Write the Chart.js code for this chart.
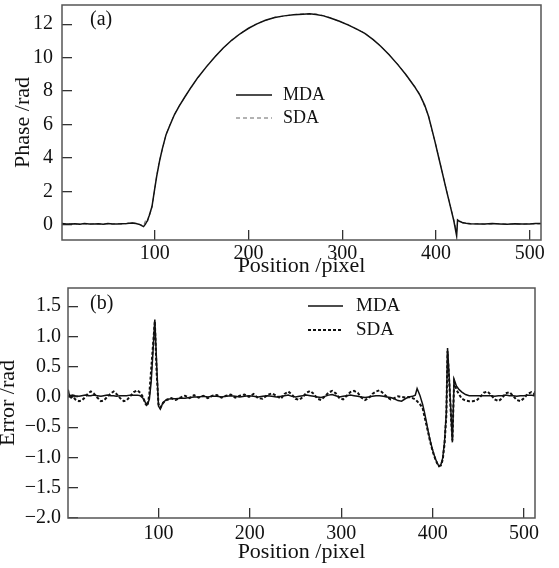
<!DOCTYPE html>
<html>
<head>
<meta charset="utf-8">
<script src="https://cdn.jsdelivr.net/npm/chart.js"></script>
<style>
  body { margin: 0; background: #fff; }
  canvas { position: absolute; left: 0; }
  #chartA { top: 0; }
  #chartB { top: 282px; }
</style>
</head>
<body>
<canvas id="chartA" width="559" height="282"></canvas>
<canvas id="chartB" width="559" height="286"></canvas>
<script>
// (a) phase, sampled positions
const phaseX = [1,5,10,15,20,25,30,35,40,45,50,55,60,65,70,75,80,84,88,90,92,94,97,100,102,105,108,112,116,121,126,132,139,146,155,164,173,182,191,200,209,218,228,238,248,258,265,272,280,288,297,306,315,324,333,341,350,359,368,377,383,388,392,395,399,403,407,411,416,419,422,423,425,428,432,437,445,452,460,468,476,484,492,500,506,512];
const phaseMDA = [0.08,0.06,0.05,0.07,0.04,0.08,0.06,0.05,0.07,0.04,0.08,0.06,0.05,0.07,0.09,0.12,0.08,0.02,-0.10,0.05,0.25,0.55,1.10,2.20,2.90,3.80,4.55,5.40,5.95,6.60,7.10,7.65,8.25,8.82,9.45,10.04,10.58,11.04,11.43,11.76,12.02,12.24,12.40,12.50,12.56,12.60,12.62,12.58,12.50,12.36,12.18,11.96,11.72,11.45,11.08,10.68,10.18,9.60,8.98,8.28,7.75,7.15,6.50,5.85,4.95,4.00,3.05,2.10,0.95,0.25,-0.65,0.30,0.22,0.15,0.10,0.07,0.06,0.05,0.08,0.06,0.04,0.07,0.05,0.06,0.08,0.09];
const phaseSDA = [0.10,0.07,0.06,0.05,0.06,0.07,0.04,0.07,0.06,0.05,0.07,0.06,0.08,0.05,0.08,0.15,0.10,0.04,-0.05,0.25,0.15,0.50,1.05,2.15,2.95,3.85,4.50,5.42,5.97,6.62,7.12,7.63,8.27,8.80,9.47,10.06,10.56,11.06,11.45,11.74,12.05,12.22,12.42,12.49,12.58,12.62,12.60,12.61,12.52,12.38,12.16,11.99,11.70,11.48,11.06,10.70,10.16,9.63,8.95,8.30,7.80,7.05,6.55,5.80,4.98,4.02,3.08,2.12,0.98,0.30,-0.40,0.20,0.25,0.12,0.08,0.05,0.08,0.04,0.06,0.08,0.05,0.06,0.04,0.08,0.05,0.07];

// (b) error, sampled positions
const errX = [1,3,6,9,13,16,20,23,26,29,33,37,40,44,48,51,54,58,62,65,69,73,77,80,83,86,88,90,92,94,96,98,100,102,105,109,114,119,124,129,134,139,144,149,154,159,164,169,174,179,184,189,194,199,204,209,214,219,224,229,234,238,242,246,250,254,258,262,266,270,274,278,282,286,290,294,298,302,306,310,314,318,322,326,330,334,338,342,346,350,354,358,362,366,370,374,378,381,383,386,389,391,393,395,397,399,401,403,405,407,409,411,413,415,416.3,418,420,421.6,423.5,426,429,432,436,440,444,448,452,456,460,464,468,472,476,480,484,488,492,496,500,504,508,511,512];
const errMDA = [0.10,0.02,0.03,0.02,0.01,0.02,0.03,0.02,0.02,0.03,0.02,0.01,0.02,0.03,0.02,0.02,0.01,0.02,0.02,0.02,0.03,0.03,0.03,0.02,-0.02,-0.10,-0.12,-0.04,0.25,0.75,1.28,0.55,-0.15,-0.20,-0.09,-0.04,-0.03,-0.03,-0.02,-0.02,-0.01,0.00,0.00,0.01,0.00,0.01,0.01,0.00,0.01,0.02,0.01,0.00,0.01,0.02,0.01,0.00,0.01,0.02,0.01,0.00,0.01,0.02,0.03,0.01,0.00,0.01,0.02,0.03,0.02,0.01,0.00,-0.01,0.01,0.03,0.04,0.02,0.00,0.01,0.02,0.03,0.02,0.01,0.00,-0.01,0.00,0.01,0.02,0.02,0.01,0.00,-0.01,-0.03,-0.06,-0.07,-0.03,0.00,0.01,0.03,0.14,0.03,-0.12,-0.25,-0.40,-0.56,-0.70,-0.82,-0.93,-1.02,-1.09,-1.15,-1.12,-1.01,-0.74,-0.25,0.81,0.35,-0.25,-0.75,0.29,0.18,0.12,0.08,0.04,0.02,0.02,0.02,0.02,0.02,0.02,0.02,0.01,0.02,0.02,0.03,0.02,0.02,0.01,0.02,0.02,0.03,0.03,0.02,0.10];
const errSDA = [0.12,-0.03,0.01,-0.04,-0.07,-0.06,0.00,0.06,0.09,0.06,-0.01,-0.07,-0.06,0.00,0.06,0.09,0.05,-0.02,-0.07,-0.06,0.01,0.08,0.11,0.07,0.00,-0.12,-0.15,0.05,0.45,0.85,1.25,0.40,-0.12,-0.18,-0.10,-0.05,-0.02,-0.05,-0.01,0.02,-0.02,0.03,-0.01,0.02,-0.02,0.02,0.03,-0.01,0.02,0.04,-0.01,0.02,0.04,0.00,0.05,-0.02,-0.03,0.03,0.06,0.02,-0.03,0.05,0.09,0.04,-0.03,-0.05,0.00,0.07,0.10,0.05,-0.03,-0.05,0.01,0.07,0.10,0.06,-0.02,-0.04,0.02,0.08,0.10,0.07,-0.01,-0.05,-0.02,0.05,0.09,0.11,0.06,0.00,-0.04,-0.02,0.01,0.00,-0.01,0.00,-0.02,-0.04,-0.07,-0.12,-0.18,-0.32,-0.45,-0.58,-0.72,-0.84,-0.94,-1.03,-1.10,-1.14,-1.13,-1.04,-0.78,-0.30,0.76,0.30,-0.30,-0.72,0.25,0.12,0.04,-0.03,-0.06,-0.07,-0.07,-0.06,0.00,0.07,0.09,0.03,-0.04,-0.07,-0.02,0.06,0.08,0.02,-0.05,-0.07,-0.02,0.05,0.08,0.05,0.02];

const xTickStep = 100;
const phaseTickStep = 2;
const errTickStep = 0.5;

const serif = 'Liberation Serif, Times New Roman, serif';

function pts(xs, ys) {
  return xs.map(function (x, i) { return { x: x, y: ys[i] }; });
}

function framePlugin(label, lx, ly, legend) {
  return {
    id: 'frame',
    afterDraw: function (chart) {
      const c = chart.ctx;
      const a = chart.chartArea;
      c.save();
      c.strokeStyle = '#555';
      c.lineWidth = 1.5;
      c.strokeRect(a.left, a.top, a.right - a.left, a.bottom - a.top);
      c.fillStyle = '#111';
      c.font = '20px ' + serif;
      c.textBaseline = 'middle';
      c.textAlign = 'left';
      c.fillText(label, lx, ly);
      // legend
      c.font = legend.size + 'px ' + serif;
      chart.data.datasets.forEach(function (ds, i) {
        const y = legend.y + i * legend.gap;
        c.beginPath();
        c.strokeStyle = ds.borderColor;
        c.lineWidth = ds.borderWidth;
        c.setLineDash(ds.borderDash || []);
        c.moveTo(legend.x1, y);
        c.lineTo(legend.x2, y);
        c.stroke();
        c.setLineDash([]);
        c.fillStyle = '#111';
        c.fillText(ds.label, legend.tx, y);
      });
      c.restore();
    }
  };
}

function axes(cfg) {
  return {
    x: {
      type: 'linear',
      min: 1,
      max: 512,
      afterFit: function (s) { s.height = cfg.xh; s.paddingLeft = 0; s.paddingRight = 0; },
      border: { display: false },
      grid: { drawOnChartArea: false, tickLength: -10, color: '#333', lineWidth: 1.3 },
      ticks: { stepSize: xTickStep, includeBounds: false, padding: cfg.xpad, color: '#111', font: { family: serif, size: 20 } },
      title: { display: true, text: 'Position /pixel', color: '#111', padding: { top: 0, bottom: 3 }, font: { family: serif, size: 22 } }
    },
    y: {
      min: cfg.ymin,
      max: cfg.ymax,
      afterFit: function (s) { s.width = cfg.yw; s.paddingTop = 0; s.paddingBottom = 0; },
      border: { display: false },
      grid: { drawOnChartArea: false, tickLength: -10, color: '#333', lineWidth: 1.3 },
      ticks: {
        stepSize: cfg.step, includeBounds: false, padding: cfg.ypad, color: '#111',
        font: { family: serif, size: 20 },
        callback: cfg.fmt
      },
      title: { display: true, text: cfg.title, color: '#111', padding: { top: cfg.tpad, bottom: 0 }, font: { family: serif, size: 22 } }
    }
  };
}

new Chart(document.getElementById('chartA'), {
  type: 'line',
  data: {
    datasets: [
      { label: 'MDA', data: pts(phaseX, phaseMDA), borderColor: '#111', borderWidth: 1.5, pointRadius: 0, tension: 0 },
      { label: 'SDA', data: pts(phaseX, phaseSDA), borderColor: '#666', borderWidth: 1, borderDash: [4, 3], pointRadius: 0, tension: 0 }
    ]
  },
  options: {
    responsive: false,
    animation: false,
    layout: { padding: { left: 0, top: 5, right: 18, bottom: 0 } },
    plugins: { legend: { display: false }, tooltip: { enabled: false } },
    scales: axes({ xh: 42, xpad: 11.5, yw: 62, ypad: 19, ymin: -0.9, ymax: 13.15, step: phaseTickStep, title: 'Phase /rad', tpad: 10,
      fmt: function (v) { return String(v); } })
  },
  plugins: [framePlugin('(a)', 90, 20, { x1: 236, x2: 272, tx: 283, y: 95, gap: 23, size: 18 })]
});

new Chart(document.getElementById('chartB'), {
  type: 'line',
  data: {
    datasets: [
      { label: 'MDA', data: pts(errX, errMDA), borderColor: '#111', borderWidth: 1.5, pointRadius: 0, tension: 0 },
      { label: 'SDA', data: pts(errX, errSDA), borderColor: '#111', borderWidth: 2, borderDash: [3, 2], pointRadius: 0, tension: 0 }
    ]
  },
  options: {
    responsive: false,
    animation: false,
    layout: { padding: { left: 0, top: 6, right: 24, bottom: 0 } },
    plugins: { legend: { display: false }, tooltip: { enabled: false } },
    scales: axes({ xh: 50, xpad: 13.5, yw: 68, ypad: 17, ymin: -2, ymax: 1.8, step: errTickStep, title: 'Error /rad', tpad: -5,
      fmt: function (v) { return v.toFixed(1).replace('-', '\u2212'); } })
  },
  plugins: [framePlugin('(b)', 90, 21.5, { x1: 308, x2: 343, tx: 356, y: 24, gap: 24, size: 19 })]
});
</script>
</body>
</html>
